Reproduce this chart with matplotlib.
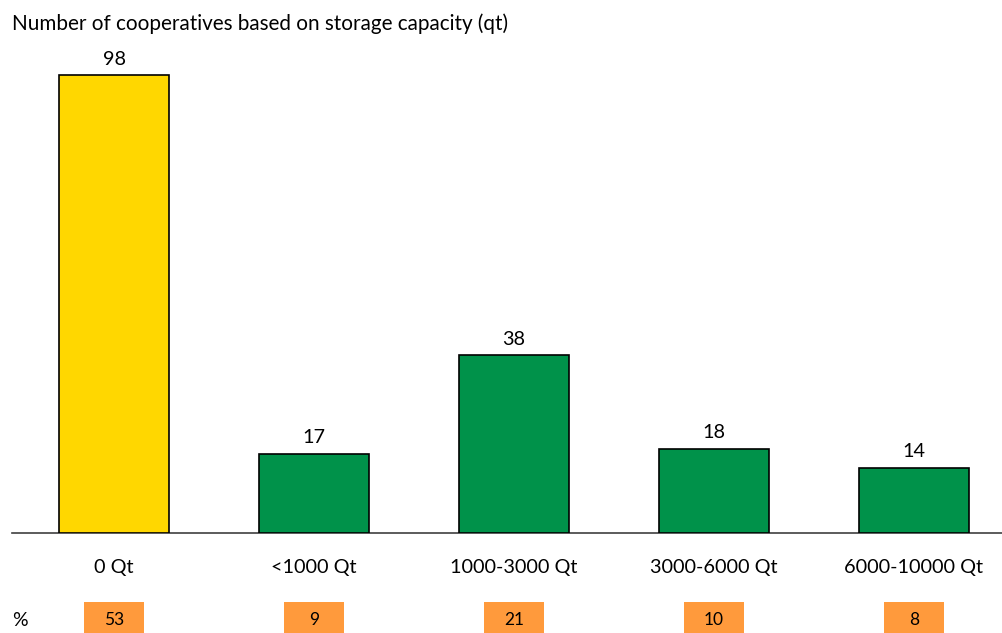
import numpy as np
import matplotlib.pyplot as plt

plt.rcParams['font.family'] = ['Lato', 'DejaVu Sans']

categories = ["0 Qt", "<1000 Qt", "1000-3000 Qt", "3000-6000 Qt", "6000-10000 Qt"]
counts = [98, 17, 38, 18, 14]
percents = [53, 9, 21, 10, 8]
colors = ["#FFD700", "#00924A", "#00924A", "#00924A", "#00924A"]


def main():
    W, H = 1003, 633
    fig = plt.figure(figsize=(W / 100, H / 100), dpi=100)
    ax = fig.add_axes([12 / W, 100 / H, 991 / W, 533 / H])

    xs = np.arange(len(categories))
    ax.bar(xs, counts, width=0.55, color=colors, edgecolor="black", linewidth=1.2, zorder=3)
    for x, c in zip(xs, counts):
        ax.text(x, c + 1.6, str(c), ha="center", va="bottom", fontsize=14.3)

    ax.set_xlim(-0.51, 4.445)
    ax.set_ylim(0, 114.06)

    for s in ["top", "right", "left"]:
        ax.spines[s].set_visible(False)
    ax.spines["bottom"].set_color("#404040")
    ax.spines["bottom"].set_linewidth(1.2)
    ax.set_yticks([])
    ax.set_xticks(xs)
    ax.set_xticklabels(categories, fontsize=14.3)
    ax.tick_params(axis="x", length=0, pad=19)

    # percentage boxes under each category
    ax.bar(xs, -9, bottom=-14.8, width=0.3, color="#FF9A3C", clip_on=False, zorder=3)
    for x, p in zip(xs, percents):
        ax.text(x, -18.7, str(p), ha="center", va="center", fontsize=12.5, clip_on=False)
    fig.text(12 / W, 1 - 620 / H, "%", ha="left", va="center", fontsize=14)

    fig.text(12 / W, 1 - 24 / H, "Number of cooperatives based on storage capacity (qt)",
             ha="left", va="center", fontsize=14.9)

    fig.savefig("out.png", dpi=100)


if __name__ == "__main__":
    main()
